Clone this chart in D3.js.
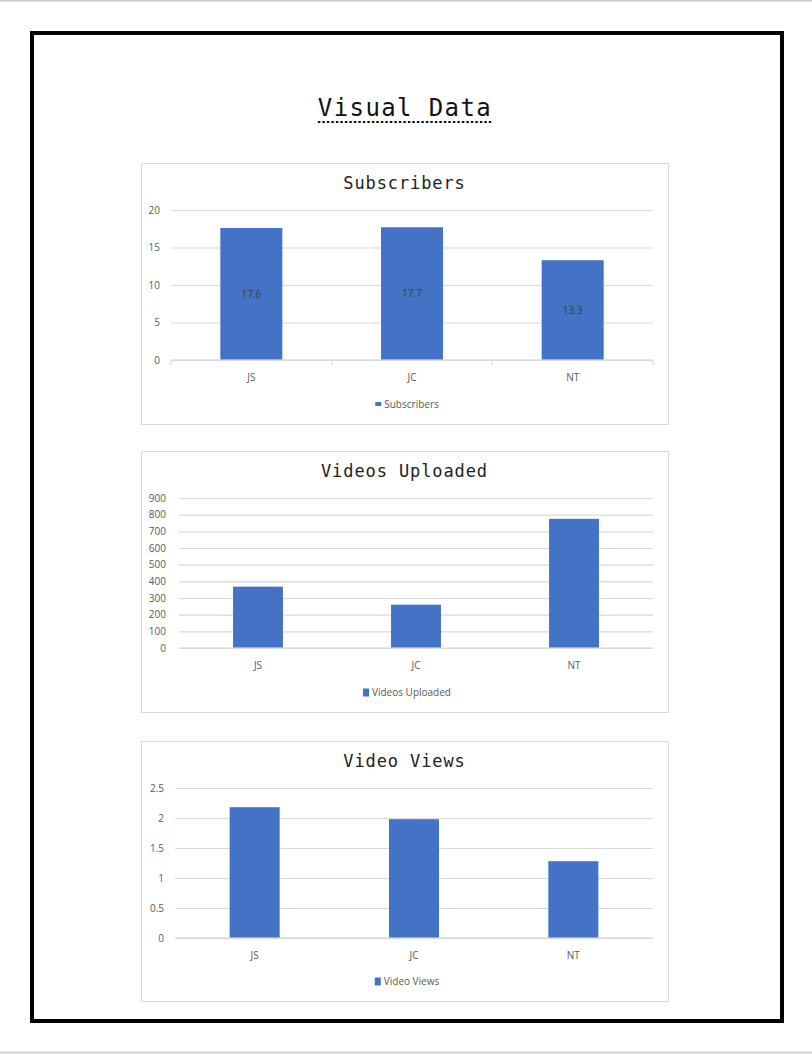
<!DOCTYPE html>
<html><head><meta charset="utf-8">
<script src="https://cdn.jsdelivr.net/npm/d3@7"></script>
<style>body{margin:0;background:#fff}</style>
</head><body><svg id="c" width="812" height="1054"></svg>
<script>
// ---- data ----
const categories = ["JS", "JC", "NT"];
const subscribers = [17.6, 17.7, 13.3];
const videosUploaded = [368, 260, 775];
const videoViews = [2.18, 1.98, 1.28];
const subscriberTicks = [0, 5, 10, 15, 20];
const uploadTicks = [0, 100, 200, 300, 400, 500, 600, 700, 800, 900];
const viewTicks = [0, 0.5, 1, 1.5, 2, 2.5];
const pageTitle = "Visual Data";
const chartTitles = ["Subscribers", "Videos Uploaded", "Video Views"];

// ---- layout ----
const svg = d3.select("#c");
svg.append("rect").attr("width", 812).attr("height", 1054).attr("fill", "#fff");
svg.append("line").attr("x1", 0).attr("x2", 812).attr("y1", 0.75).attr("y2", 0.75)
  .attr("stroke", "#c8c8c8").attr("stroke-width", 1.5);
svg.append("line").attr("x1", 0).attr("x2", 812).attr("y1", 1052.5).attr("y2", 1052.5)
  .attr("stroke", "#c8c8c8").attr("stroke-width", 1.5);
svg.append("rect").attr("x", 32).attr("y", 33).attr("width", 750).attr("height", 988)
  .attr("fill", "none").attr("stroke", "#000").attr("stroke-width", 4);

const title = svg.append("text").attr("x", 405).attr("y", 116)
  .attr("text-anchor", "middle")
  .style("font-family", "'DejaVu Sans Mono', monospace").style("font-size", "24px")
  .style("letter-spacing", "1.4px").attr("fill", "#111").text(pageTitle);
const tw = title.node().getComputedTextLength();
svg.append("line").attr("x1", 405 - tw / 2).attr("x2", 405 + tw / 2 - 1)
  .attr("y1", 122).attr("y2", 122).attr("stroke", "#111").attr("stroke-width", 2)
  .attr("stroke-dasharray", "2.5,2");

const FONT = "'Open Sans', sans-serif";
const BLUE = "#4472c4";

function drawChart(cfg) {
  const g = svg.append("g");
  g.append("rect").attr("x", cfg.box[0] + 0.5).attr("y", cfg.box[1] + 0.5)
    .attr("width", cfg.box[2]).attr("height", cfg.box[3])
    .attr("fill", "#fff").attr("stroke", "#d9d9d9").attr("stroke-width", 1);
  g.append("text").attr("x", cfg.box[0] + cfg.box[2] / 2).attr("y", cfg.titleY)
    .attr("text-anchor", "middle")
    .style("font-family", "'DejaVu Sans Mono', monospace").style("font-size", "17px")
    .style("letter-spacing", "0.9px").attr("fill", "#222").text(cfg.title);

  const y = d3.scaleLinear().domain([0, cfg.ticks[cfg.ticks.length - 1]]).range([cfg.y0, cfg.yTop]);
  const xStep = d3.scaleBand().domain(categories).range([cfg.left, cfg.right]);
  const xBar = d3.scaleBand().domain(categories).range([cfg.left, cfg.right])
    .paddingInner(cfg.pad).paddingOuter(cfg.pad / 2);

  const yAxis = g.append("g").attr("transform", `translate(${cfg.left},0)`)
    .call(d3.axisLeft(y).tickValues(cfg.ticks).tickSize(-(cfg.right - cfg.left))
      .tickPadding(cfg.left - cfg.labelRight).tickFormat(d3.format("~g")));
  yAxis.select(".domain").remove();
  yAxis.selectAll(".tick line").attr("stroke", "#d9d9d9").attr("stroke-width", 1.2);
  yAxis.selectAll(".tick text").attr("fill", "#595959")
    .style("font-family", FONT).style("font-size", "10px");

  g.selectAll("rect.bar").data(cfg.values).join("rect").attr("class", "bar")
    .attr("x", (d, i) => xBar(categories[i])).attr("width", xBar.bandwidth())
    .attr("y", d => y(d)).attr("height", d => y(0) - y(d)).attr("fill", BLUE);

  g.append("line").attr("x1", cfg.left).attr("x2", cfg.right).attr("y1", y(0)).attr("y2", y(0))
    .attr("stroke", "#d9d9d9").attr("stroke-opacity", 0.6).attr("stroke-width", 2);

  if (cfg.tickMarks) {
    const bounds = categories.map(c => xStep(c)).concat([cfg.right]);
    g.selectAll("line.tm").data(bounds).join("line").attr("class", "tm")
      .attr("x1", d => d).attr("x2", d => d).attr("y1", y(0)).attr("y2", y(0) + 5)
      .attr("stroke", "#d9d9d9").attr("stroke-width", 1);
  }

  const xAxis = g.append("g").attr("transform", `translate(0,${y(0)})`)
    .call(d3.axisBottom(xStep).tickSize(0).tickPadding(cfg.catPad));
  xAxis.select(".domain").remove();
  xAxis.selectAll(".tick text").attr("fill", "#595959")
    .style("font-family", FONT).style("font-size", "10px");

  if (cfg.showValues) {
    g.selectAll("text.val").data(cfg.values).join("text").attr("class", "val")
      .attr("x", (d, i) => xBar(categories[i]) + xBar.bandwidth() / 2)
      .attr("y", d => (y(d) + y(0)) / 2 + 3.5).attr("text-anchor", "middle")
      .attr("fill", "#404040").style("font-family", FONT).style("font-size", "10px")
      .text(d => d);
  }

  const lg = g.append("g");
  const lt = lg.append("text").attr("x", cfg.sw[0] + 3).attr("y", cfg.legendY)
    .attr("fill", "#595959").style("font-family", FONT).style("font-size", "10px").text(cfg.title);
  lg.append("rect").attr("x", 0).attr("y", cfg.legendY - 3.5 - cfg.sw[1] / 2)
    .attr("width", cfg.sw[0]).attr("height", cfg.sw[1]).attr("fill", BLUE);
  const total = cfg.sw[0] + 3 + lt.node().getComputedTextLength();
  lg.attr("transform", `translate(${407 - total / 2},0)`);
}

drawChart({ title: chartTitles[0], values: subscribers, ticks: subscriberTicks,
  box: [141, 163, 527, 261], titleY: 189, left: 171, right: 653, yTop: 210, y0: 360,
  labelRight: 160, pad: 0.614, tickMarks: true, showValues: true, catPad: 14,
  legendY: 407.5, sw: [6, 4] });
drawChart({ title: chartTitles[1], values: videosUploaded, ticks: uploadTicks,
  box: [141, 451, 527, 261], titleY: 477, left: 179, right: 653, yTop: 498, y0: 648,
  labelRight: 166, pad: 0.684, tickMarks: false, showValues: false, catPad: 14,
  legendY: 696, sw: [6, 8] });
drawChart({ title: chartTitles[2], values: videoViews, ticks: viewTicks,
  box: [141, 741, 527, 260], titleY: 767, left: 175, right: 653, yTop: 788, y0: 938,
  labelRight: 164, pad: 0.686, tickMarks: false, showValues: false, catPad: 14,
  legendY: 985, sw: [6, 8] });
</script>
</body></html>
